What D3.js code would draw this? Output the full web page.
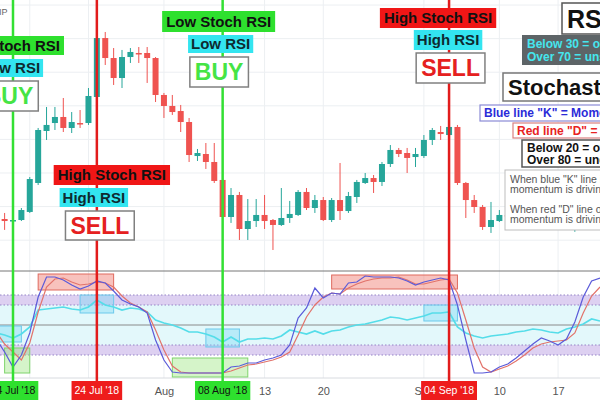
<!DOCTYPE html>
<html>
<head>
<meta charset="utf-8">
<script src="https://cdnjs.cloudflare.com/ajax/libs/d3/7.8.5/d3.min.js"></script>
<style>
  body { margin: 0; background: #fff; }
  svg { display: block; }
</style>
</head>
<body>
<div id="chart"></div>
<script>
// daily candles: date, open, high, low, close
const candleRows = [
  ["2018-07-13", 6252, 6324, 6122, 6228], ["2018-07-14", 6228, 6288, 6169, 6240],
  ["2018-07-15", 6240, 6383, 6228, 6359], ["2018-07-16", 6336, 6752, 6324, 6728],
  ["2018-07-17", 6681, 7336, 6657, 7312], ["2018-07-18", 7300, 7586, 7193, 7372],
  ["2018-07-19", 7395, 7586, 7312, 7467], ["2018-07-20", 7467, 7693, 7288, 7336],
  ["2018-07-21", 7336, 7526, 7276, 7407], ["2018-07-22", 7395, 7550, 7336, 7383],
  ["2018-07-23", 7395, 7812, 7372, 7717], ["2018-07-24", 7705, 8431, 7693, 8407],
  ["2018-07-25", 8407, 8479, 8086, 8169], ["2018-07-26", 8169, 8288, 7848, 7931],
  ["2018-07-27", 7931, 8265, 7812, 8181], ["2018-07-28", 8181, 8288, 8110, 8241],
  ["2018-07-29", 8229, 8300, 8110, 8217], ["2018-07-30", 8229, 8300, 7872, 8169],
  ["2018-07-31", 8169, 8181, 7645, 7729], ["2018-08-01", 7729, 7753, 7455, 7598],
  ["2018-08-02", 7598, 7729, 7491, 7526], ["2018-08-03", 7538, 7610, 7288, 7407],
  ["2018-08-04", 7407, 7455, 6931, 7014], ["2018-08-05", 7002, 7086, 6943, 7038],
  ["2018-08-06", 7026, 7157, 6848, 6931], ["2018-08-07", 6931, 7157, 6681, 6705],
  ["2018-08-08", 6717, 6740, 6252, 6276], ["2018-08-09", 6276, 6621, 6205, 6538],
  ["2018-08-10", 6538, 6574, 6002, 6133], ["2018-08-11", 6133, 6490, 6002, 6228],
  ["2018-08-12", 6228, 6490, 6157, 6300], ["2018-08-13", 6300, 6538, 6133, 6228],
  ["2018-08-14", 6240, 6252, 5883, 6181], ["2018-08-15", 6181, 6621, 6169, 6264],
  ["2018-08-16", 6264, 6467, 6205, 6312], ["2018-08-17", 6300, 6597, 6288, 6574],
  ["2018-08-18", 6574, 6621, 6359, 6383], ["2018-08-19", 6383, 6538, 6324, 6478],
  ["2018-08-20", 6478, 6514, 6228, 6240], ["2018-08-21", 6240, 6502, 6216, 6478],
  ["2018-08-22", 6478, 6919, 6240, 6347], ["2018-08-23", 6347, 6574, 6324, 6526],
  ["2018-08-24", 6514, 6717, 6443, 6693], ["2018-08-25", 6681, 6800, 6669, 6740],
  ["2018-08-26", 6740, 6776, 6562, 6693], ["2018-08-27", 6693, 6931, 6645, 6907],
  ["2018-08-28", 6907, 7133, 6871, 7074], ["2018-08-29", 7074, 7098, 6990, 7026],
  ["2018-08-30", 7038, 7098, 6800, 6979], ["2018-08-31", 6990, 7098, 6871, 7026],
  ["2018-09-01", 7002, 7252, 6979, 7193], ["2018-09-02", 7193, 7336, 7133, 7312],
  ["2018-09-03", 7288, 7360, 7193, 7264], ["2018-09-04", 7252, 7383, 7229, 7348],
  ["2018-09-05", 7348, 7372, 6657, 6681], ["2018-09-06", 6681, 6693, 6264, 6478],
  ["2018-09-07", 6478, 6538, 6324, 6395], ["2018-09-08", 6395, 6419, 6122, 6157],
  ["2018-09-09", 6157, 6455, 6086, 6240], ["2018-09-10", 6228, 6359, 6216, 6300],
  ["2018-09-11", 6300, 6370, 6220, 6280], ["2018-09-12", 6280, 6330, 6210, 6310],
  ["2018-09-13", 6310, 6510, 6300, 6470], ["2018-09-14", 6470, 6570, 6410, 6490],
  ["2018-09-15", 6490, 6550, 6460, 6520], ["2018-09-16", 6520, 6530, 6410, 6490],
  ["2018-09-17", 6490, 6510, 6240, 6250], ["2018-09-18", 6250, 6390, 6230, 6340],
  ["2018-09-19", 6340, 6490, 6100, 6380], ["2018-09-20", 6380, 6520, 6360, 6490],
  ["2018-09-21", 6490, 6770, 6480, 6750]
];

// oscillator pane, one value per day starting at oscStart
const oscStart = "2018-07-12";
const stochK = [36,23,8,20,42,78,98,98,95,90,86,89,94,92,84,75,71,68,62,35,15,3,2,2,2,2,2,2,
  8,9,12,12,15,17,20,30,57,67,87,77,82,81,92,93,99,98,98,98,97,94,90,93,95,97,95,
  70,35,2,2,3,8,11,17,24,31,37,34,30,36,53,78,94,97];
const stochD = [43,31,23,15,32,63,88,96,97,93,90,91,93,92,88,79,72,68,63,45,25,9,3,2,2,2,2,2,
  4,7,10,11,13,15,18,23,40,58,70,78,82,81,87,91,94,96,97,97,98,95,91,91,93,95,96,
  82,55,27,8,3,6,9,14,20,27,31,33,34,35,42,62,79,88];
const rsiLine = [42,40,37,41,48,65,66,67,68,66,65,68,75,70,68,65,67,66,63,55,52,50,47,43,43,41,38,33,
  38,33,36,36,37,36,39,45,43,41,44,41,44,45,48,50,51,53,55,58,57,55,57,59,62,62,63,
  48,42,39,37,39,40,41,43,44,46,45,43,42,46,48,51,56,54];

const priceTicks = [6000, 6400, 6800, 7200, 7600, 8000, 8400, 8800];
const timeTicks = ["2018-07-16", "2018-07-23", "2018-08-01", "2018-08-13", "2018-08-20", "2018-09-01", "2018-09-10", "2018-09-17"];
// 16 and 23 sit under the date badges, so they carry no label
const timeTickLabels = ["", "", "Aug", "13", "20", "Sep", "10", "17"];
const oscBands = [[70, 80], [20, 30]];
const oscLines = [80, 70, 30, 20];

const signalDates = ["2018-07-14", "2018-07-24", "2018-08-08", "2018-09-04"];
const signalTypes = ["buy", "sell", "buy", "sell"];

const stochBoxes = [
  ["2018-07-17", "2018-07-26", 85, 101, "high"],
  ["2018-08-21", "2018-09-05", 86, 100, "high"],
  ["2018-07-13", "2018-07-16", 2, 27, "low"],
  ["2018-08-02", "2018-08-11", -2, 17, "low"]
];
const rsiBoxes = [
  ["2018-07-12", "2018-07-15", 33, 49],
  ["2018-07-22", "2018-07-26", 62, 80],
  ["2018-08-06", "2018-08-10", 28, 46],
  ["2018-09-01", "2018-09-05", 54, 70]
];

const W = 600, H = 400;
const parseDay = d3.utcParse("%Y-%m-%d");
const fmtBadge = d3.utcFormat("%d %b '%y");

const svg = d3.select("#chart").append("svg")
  .attr("width", W).attr("height", H)
  .style("font-family", "'Liberation Sans', Arial, sans-serif");

const x = d3.scaleTime()
  .domain([new Date(Date.UTC(2018, 6, 12, 10, 48)), new Date(Date.UTC(2018, 8, 22))])
  .range([0, W]);
const yPrice = d3.scaleLinear().domain([5740, 8860]).range([262, 0]);
const yOsc = d3.scaleLinear().domain([0, 100]).range([375, 275]);

svg.append("defs").append("clipPath").attr("id", "clipTop")
  .append("rect").attr("x", 0).attr("y", 0).attr("width", W).attr("height", 262);

// grid
const grid = svg.append("g").attr("stroke", "#eceff2");
grid.selectAll("line.h").data(priceTicks).join("line")
  .attr("x1", 0).attr("x2", W)
  .attr("y1", d => yPrice(d)).attr("y2", d => yPrice(d));
grid.selectAll("line.v").data(timeTicks.map(parseDay)).join("line")
  .attr("x1", d => x(d)).attr("x2", d => x(d))
  .attr("y1", 0).attr("y2", 378);

// oscillator pane background
const osc = svg.append("g");
osc.append("rect").attr("x", 0).attr("width", W)
  .attr("y", yOsc(70)).attr("height", yOsc(30) - yOsc(70)).attr("fill", "#e3f8fb");
osc.selectAll("rect.band").data(oscBands).join("rect")
  .attr("x", 0).attr("width", W)
  .attr("y", d => yOsc(d[1])).attr("height", d => yOsc(d[0]) - yOsc(d[1]))
  .attr("fill", "#ddd0f1");
osc.selectAll("line.lvl").data(oscLines).join("line")
  .attr("x1", 0).attr("x2", W)
  .attr("y1", d => yOsc(d)).attr("y2", d => yOsc(d))
  .attr("stroke", "#9483c6").attr("stroke-dasharray", "1.5,2");
osc.append("line").attr("x1", 0).attr("x2", W).attr("y1", yOsc(50)).attr("y2", yOsc(50))
  .attr("stroke", "#8a8a8a");
osc.append("line").attr("x1", 0).attr("x2", W).attr("y1", 271).attr("y2", 271)
  .attr("stroke", "#777");
osc.append("line").attr("x1", 0).attr("x2", W).attr("y1", 378).attr("y2", 378)
  .attr("stroke", "#d8dbe0");

// highlight boxes
const boxStyle = {
  high: ["rgba(240,120,108,0.45)", "#df6a5e"],
  low: ["rgba(150,228,120,0.4)", "#7fd46c"]
};
osc.selectAll("rect.sbox").data(stochBoxes).join("rect")
  .attr("x", d => x(parseDay(d[0]))).attr("width", d => x(parseDay(d[1])) - x(parseDay(d[0])))
  .attr("y", d => yOsc(d[3])).attr("height", d => yOsc(d[2]) - yOsc(d[3]))
  .attr("fill", d => boxStyle[d[4]][0]).attr("stroke", d => boxStyle[d[4]][1]);
osc.selectAll("rect.rbox").data(rsiBoxes).join("rect")
  .attr("x", d => x(parseDay(d[0]))).attr("width", d => x(parseDay(d[1])) - x(parseDay(d[0])))
  .attr("y", d => yOsc(d[3])).attr("height", d => yOsc(d[2]) - yOsc(d[3]))
  .attr("fill", "rgba(120,215,245,0.4)").attr("stroke", "#6cc9ec");

// oscillator lines
const day0 = parseDay(oscStart);
const oscX = (d, i) => x(d3.utcDay.offset(day0, i));
const line = d3.line().x(oscX).y(d => yOsc(d));
osc.append("path").datum(rsiLine).attr("d", line)
  .attr("fill", "none").attr("stroke", "#55dde9").attr("stroke-width", 1.7);
osc.append("path").datum(stochD).attr("d", line)
  .attr("fill", "none").attr("stroke", "#e2736b").attr("stroke-width", 1.2);
osc.append("path").datum(stochK).attr("d", line)
  .attr("fill", "none").attr("stroke", "#5b5bd9").attr("stroke-width", 1.2);

// candles
const candles = candleRows.map(([d, o, h, l, c]) => ({ date: parseDay(d), o, h, l, c }));
const cg = svg.append("g").attr("clip-path", "url(#clipTop)");
const upCol = "#26a69a", downCol = "#ef5350";
cg.selectAll("line.wick").data(candles).join("line")
  .attr("x1", d => x(d.date)).attr("x2", d => x(d.date))
  .attr("y1", d => yPrice(d.h)).attr("y2", d => yPrice(d.l))
  .attr("stroke", d => d.c >= d.o ? upCol : downCol);
cg.selectAll("rect.body").data(candles).join("rect")
  .attr("x", d => x(d.date) - 3).attr("width", 6)
  .attr("y", d => yPrice(Math.max(d.o, d.c)))
  .attr("height", d => Math.max(1.5, Math.abs(yPrice(d.o) - yPrice(d.c))))
  .attr("fill", d => d.c >= d.o ? upCol : downCol);

svg.append("text").attr("x", -1).attr("y", 15).attr("font-size", 9).attr("fill", "#666").text("IP");

// signal lines
const sigCol = { buy: "#33e033", sell: "#e21c1c" };
svg.append("g").selectAll("line").data(signalDates).join("line")
  .attr("x1", d => x(parseDay(d))).attr("x2", d => x(parseDay(d)))
  .attr("y1", 0).attr("y2", 381)
  .attr("stroke", (d, i) => sigCol[signalTypes[i]]).attr("stroke-width", 2.5);

// x axis
const axisG = svg.append("g").attr("transform", "translate(0,383)")
  .call(d3.axisBottom(x).tickValues(timeTicks.map(parseDay))
    .tickFormat((d, i) => timeTickLabels[i]).tickSize(0).tickPadding(4));
axisG.select(".domain").remove();
axisG.attr("font-family", "'Liberation Sans', Arial, sans-serif");
axisG.selectAll("text").attr("font-size", 11).attr("fill", "#555");

function badge(g, cx, y, h, text, o) {
  const t = g.append("text").attr("x", cx).attr("y", y + h / 2).attr("dy", "0.36em")
    .attr("text-anchor", "middle").attr("font-size", o.size)
    .attr("font-weight", o.weight || "bold").attr("fill", o.color).text(text);
  const w = t.node().getComputedTextLength() + o.pad * 2;
  g.insert("rect", () => t.node())
    .attr("x", cx - w / 2).attr("y", y).attr("width", w).attr("height", h)
    .attr("fill", o.fill).attr("stroke", o.stroke || "none").attr("stroke-width", o.sw || 1);
}

// date badges on axis
const badges = svg.append("g");
signalDates.forEach((d, i) => {
  const buy = signalTypes[i] === "buy";
  badge(badges, x(parseDay(d)), 381, 19, fmtBadge(parseDay(d)), {
    size: 10.5, weight: "normal", pad: 3,
    fill: buy ? "#2ee02e" : "#ee1c1c", color: buy ? "#111" : "#fff"
  });
});

// signal annotations
const clusterLayout = [
  { s: [-5.5, 36, 19], r: [-2.5, 59, 18], a: [-4, 81, 30] },
  { s: [15, 165, 20], r: [-3, 188, 19], a: [3, 211, 29] },
  { s: [-4, 11, 21], r: [-2, 35, 18], a: [-3.5, 57, 30] },
  { s: [-11, 8, 20], r: [-1, 30, 20], a: [1.5, 53, 30] }
];
const notes = svg.append("g");
signalDates.forEach((d, i) => {
  const cx = x(parseDay(d));
  const buy = signalTypes[i] === "buy";
  const L = clusterLayout[i];
  badge(notes, cx + L.s[0], L.s[1], L.s[2], buy ? "Low Stoch RSI" : "High Stoch RSI",
    { size: 15, pad: 4, fill: buy ? "#2ee02e" : "#f01616", color: "#111" });
  badge(notes, cx + L.r[0], L.r[1], L.r[2], buy ? "Low RSI" : "High RSI",
    { size: 15, pad: 3, fill: "#33e5f0", color: "#0e2a30" });
  badge(notes, cx + L.a[0], L.a[1], L.a[2], buy ? "BUY" : "SELL",
    { size: 23, pad: 5, fill: "#fff", stroke: "#808080", sw: 1.5, color: buy ? "#45e445" : "#e52020" });
});

// legend boxes on the right
const side = svg.append("g");
function box(xp, yp, w, h, fill, stroke, sw) {
  side.append("rect").attr("x", xp).attr("y", yp).attr("width", w).attr("height", h)
    .attr("fill", fill).attr("stroke", stroke).attr("stroke-width", sw);
}
function txt(xp, yp, s, size, color, weight) {
  side.append("text").attr("x", xp).attr("y", yp).attr("font-size", size)
    .attr("font-weight", weight).attr("fill", color).text(s);
}
box(562, 3, 60, 31, "#fff", "#555", 1.5);
txt(567, 28, "RSI", 25, "#111", "bold");
box(522, 35, 90, 30, "#5d6467", "none", 0);
txt(527, 48, "Below 30 = oversold", 12, "#45e6ee", "bold");
txt(527, 61, "Over 70 = unsustainable", 12, "#45e6ee", "bold");
box(503, 73, 110, 28, "#fff", "#777", 1.5);
txt(508, 95, "Stochastic RSI", 22, "#111", "bold");
box(480, 105, 130, 16, "#fff", "#8b8bd6", 1.2);
txt(484, 117, "Blue line \"K\" = Momentum", 12, "#2b2bd8", "bold");
box(513, 123, 100, 15, "#fff", "#d98080", 1.2);
txt(517, 135, "Red line \"D\" = Moving Average", 12, "#e82222", "bold");
box(522, 140, 90, 27, "#fff", "#555", 1.5);
txt(527, 152, "Below 20 = oversold", 12, "#111", "bold");
txt(527, 164, "Over 80 = undersold", 12, "#111", "bold");
box(505, 170, 110, 60, "#fff", "#bdbdbd", 1);
txt(510, 183, "When blue \"K\" line is above red", 10.5, "#555", "normal");
txt(510, 193, "momentum is driving price up.", 10.5, "#555", "normal");
txt(510, 213, "When red \"D\" line on top, sell", 10.5, "#555", "normal");
txt(510, 223, "momentum is driving price down.", 10.5, "#555", "normal");
</script>
</body>
</html>
